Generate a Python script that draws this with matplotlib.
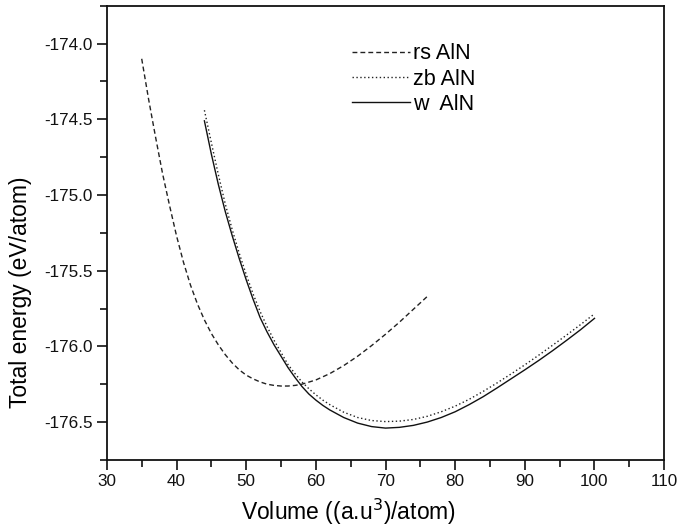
import matplotlib
matplotlib.use("Agg")
import matplotlib.pyplot as plt
from matplotlib.ticker import MultipleLocator

plt.rcParams['font.family'] = ['Liberation Sans', 'DejaVu Sans']

# rs AlN (rock salt)
rs_vol = [35, 36, 37, 38, 39, 40, 41, 42, 43, 44, 45, 46, 47, 48, 49, 50,
          51, 52, 53, 54, 55, 56, 57, 58, 60, 62, 64, 66, 68, 70, 72, 74, 76]
rs_energy = [-174.10, -174.37, -174.62, -174.86, -175.07, -175.27, -175.445,
             -175.595, -175.72, -175.825, -175.915, -175.99, -176.055, -176.11,
             -176.155, -176.19, -176.215, -176.235, -176.25, -176.258, -176.262,
             -176.262, -176.258, -176.25, -176.222, -176.18, -176.127, -176.065,
             -175.995, -175.92, -175.84, -175.755, -175.67]

# zb AlN (zinc blende)
zb_vol = [44, 45, 46, 47, 48, 49, 50, 51, 52, 53, 54, 55, 56, 57, 58, 59, 60,
          61, 62, 64, 66, 68, 70, 72, 74, 76, 78, 80, 82, 84, 86, 88, 90, 92,
          94, 96, 98, 100]
zb_energy = [-174.44, -174.655, -174.865, -175.06, -175.23, -175.385, -175.525,
             -175.655, -175.77, -175.87, -175.96, -176.04, -176.12, -176.18,
             -176.235, -176.28, -176.32, -176.355, -176.385, -176.435, -176.47,
             -176.49, -176.497, -176.494, -176.483, -176.462, -176.432, -176.395,
             -176.35, -176.298, -176.242, -176.183, -176.122, -176.058, -175.992,
             -175.925, -175.856, -175.785]

# w AlN (wurtzite)
w_vol = [44, 45, 46, 47, 48, 49, 50, 51, 52, 53, 54, 55, 56, 57, 58, 59, 60,
         61, 62, 64, 66, 68, 70, 72, 74, 76, 78, 80, 82, 84, 86, 88, 90, 92,
         94, 96, 98, 100]
w_energy = [-174.51, -174.73, -174.93, -175.11, -175.27, -175.42, -175.56,
            -175.69, -175.81, -175.905, -175.99, -176.065, -176.14, -176.205,
            -176.265, -176.315, -176.355, -176.39, -176.42, -176.47, -176.507,
            -176.53, -176.54, -176.535, -176.522, -176.50, -176.47, -176.432,
            -176.385, -176.333, -176.275, -176.215, -176.155, -176.093, -176.028,
            -175.96, -175.89, -175.815]

fig = plt.figure(figsize=(6.94, 5.28), dpi=100)
ax = fig.add_axes([0.154, 0.129, 0.803, 0.860])

ax.plot(rs_vol, rs_energy, color='#222222', lw=1.0, ls=(0, (3.5, 2.2)), label='rs AlN')
ax.plot(zb_vol, zb_energy, color='#222222', lw=1.0, ls=(0, (1, 1.8)), label='zb AlN')
ax.plot(w_vol, w_energy, color='#111111', lw=1.0, ls='-', label='w  AlN')

ax.set_xlim(30, 110)
ax.set_ylim(-176.75, -173.75)
ax.xaxis.set_major_locator(MultipleLocator(10))
ax.xaxis.set_minor_locator(MultipleLocator(5))
ax.yaxis.set_major_locator(MultipleLocator(0.5))
ax.yaxis.set_minor_locator(MultipleLocator(0.25))
ax.yaxis.set_major_formatter(matplotlib.ticker.FormatStrFormatter('%.1f'))

ax.tick_params(which='both', direction='out', top=False, right=False,
               width=1.2, labelsize=12.3, colors='#111111')
ax.tick_params(which='major', length=7)
ax.tick_params(which='minor', length=5)
for s in ax.spines.values():
    s.set_linewidth(1.3)
    s.set_color('#111111')

ax.set_xlabel('Volume ((a.u$^3$)/atom)', fontsize=16.5)
ax.set_ylabel('Total energy (eV/atom)', fontsize=16.5)
ax.xaxis.set_label_coords(0.434, -0.082)
ax.yaxis.set_label_coords(-0.135, 0.37)

ax.legend(loc='upper left', bbox_to_anchor=(0.405, 0.96), frameon=False,
          fontsize=15.5, handlelength=2.7, handletextpad=0.15, labelspacing=0.2)

fig.savefig('out.png', dpi=100)
